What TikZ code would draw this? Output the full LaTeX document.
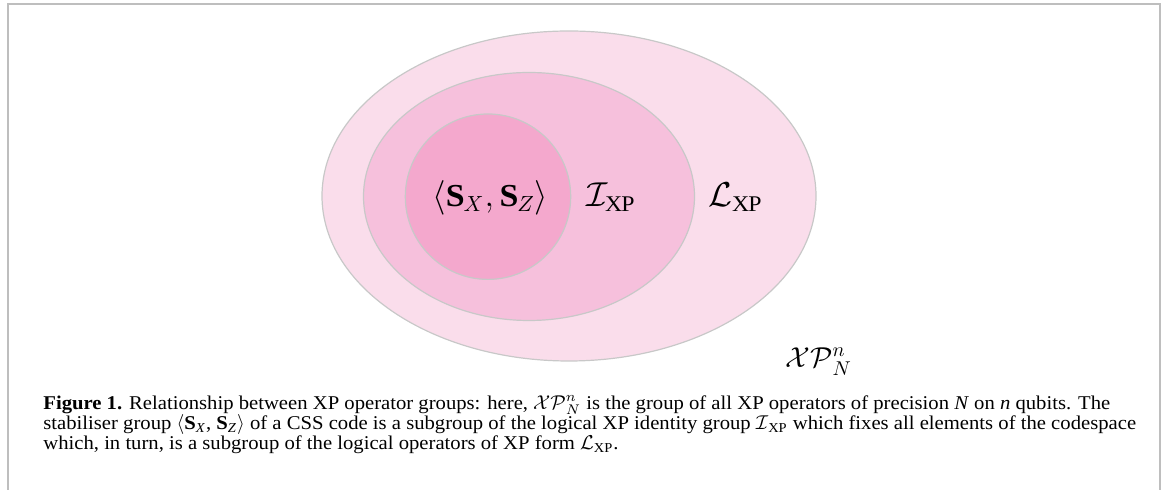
\documentclass[tikz,border=0pt]{standalone}
\usepackage{fontspec}
\setmainfont{Liberation Serif}[FakeStretch=1.06]
\usetikzlibrary{shapes.geometric}
\definecolor{framegray}{RGB}{190,190,190}
\definecolor{edgegray}{RGB}{200,200,200}
\definecolor{pinkA}{RGB}{250,221,235}
\definecolor{pinkB}{RGB}{246,192,220}
\definecolor{pinkC}{RGB}{244,168,205}
\tikzset{
  setshape/.style={ellipse, draw=edgegray, line width=0.6pt, inner sep=0pt},
  setlabel/.style={anchor=base west, inner sep=0pt, font=\fontsize{16}{19}\selectfont},
  capline/.style={anchor=base west, inner sep=0pt, font=\fontsize{9.75}{11}\selectfont}
}
\begin{document}
\begin{tikzpicture}[x=0.5pt,y=-0.5pt]
\useasboundingbox (0,0) rectangle (1167,490);
\clip (0,0) rectangle (1167,490);
\coordinate (fbl) at (8,500);
\coordinate (ftl) at (8,4);
\coordinate (ftr) at (1160,4);
\coordinate (fbr) at (1160,500);
\draw[framegray, line width=0.7pt] (fbl) -- (ftl) -- (ftr) -- (fbr);
\node[setshape, fill=pinkA, minimum width=247pt, minimum height=165pt] (outer) at (569,196) {};
\node[setshape, fill=pinkB, minimum width=165.5pt, minimum height=124pt] (middle) at (529,196.5) {};
\node[setshape, circle, fill=pinkC, minimum size=82.7pt] (inner) at (488,196.7) {};
\node[setlabel] (ls) at (432,206.5) {$\langle \mathbf{S}_X, \mathbf{S}_Z\rangle$};
\node[setlabel] (li) at (586,206.5) {$\mathcal{I}_{\mathrm{XP}}$};
\node[setlabel] (ll) at (708,206.5) {$\mathcal{L}_{\mathrm{XP}}$};
\node[setlabel, font=\fontsize{14.5}{17}\selectfont] (lx) at (785,368) {$\mathcal{XP}^n_N$};
\node[capline] (c1) at (43,410) {\textbf{Figure 1.} Relationship between XP operator groups: here, $\mathcal{XP}^n_N$ is the group of all XP operators of precision \textit{N} on \textit{n} qubits. The};
\node[capline] (c2) at (43,430) {stabiliser group $\langle$\textbf{S}\textsubscript{\textit{X}}, \textbf{S}\textsubscript{\textit{Z}}$\rangle$ of a CSS code is a subgroup of the logical XP identity group $\mathcal{I}$\textsubscript{XP} which fixes all elements of the codespace};
\node[capline] (c3) at (43,450) {which, in turn, is a subgroup of the logical operators of XP form $\mathcal{L}$\textsubscript{XP}.};
\end{tikzpicture}
\end{document}
